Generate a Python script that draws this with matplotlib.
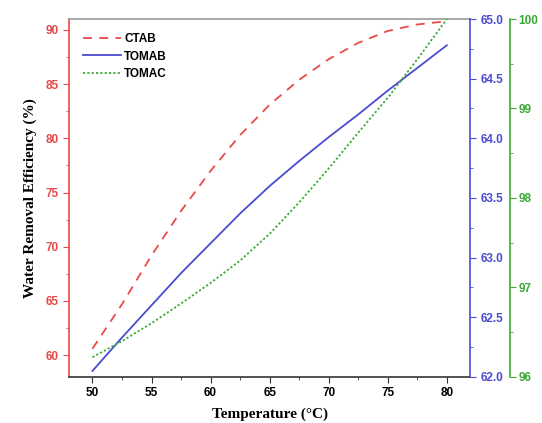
import matplotlib
matplotlib.use("Agg")
import matplotlib.pyplot as plt
from matplotlib.ticker import MultipleLocator

temperature = [50, 52.5, 55, 57.5, 60, 62.5, 65, 67.5, 70, 72.5, 75, 77.5, 80]
ctab = [60.6, 64.7, 69.2, 73.3, 77.0, 80.3, 83.1, 85.4, 87.3, 88.8, 89.9, 90.5, 90.8]
tomab = [62.05, 62.33, 62.6, 62.87, 63.12, 63.37, 63.6, 63.81, 64.01, 64.2, 64.4, 64.59, 64.78]
tomac = [96.22, 96.4, 96.6, 96.82, 97.05, 97.3, 97.6, 97.95, 98.33, 98.73, 99.12, 99.55, 100.0]

red = "#e8494a"
blue = "#4b4bd0"
green = "#3aaa35"

fig = plt.figure(figsize=(5.42, 4.23), dpi=100)
ax = fig.add_axes([0.127, 0.109, 0.741, 0.846])
ax2 = ax.twinx()
ax3 = ax.twinx()
ax3.spines["right"].set_position(("axes", 1.098))

l1, = ax.plot(temperature, ctab, color=red, ls=(0, (5, 4)), lw=1.3, label="CTAB")
l2, = ax2.plot(temperature, tomab, color=blue, ls="-", lw=1.3, label="TOMAB")
l3, = ax3.plot(temperature, tomac, color=green, ls=(0, (1.2, 1.2)), lw=1.3, label="TOMAC")

ax.set_xlim(48, 82)
ax.set_ylim(58, 91)
ax2.set_ylim(62, 65)
ax3.set_ylim(96, 100)

ax.xaxis.set_major_locator(MultipleLocator(5))
ax.xaxis.set_minor_locator(MultipleLocator(2.5))
ax.yaxis.set_major_locator(MultipleLocator(5))
ax.yaxis.set_minor_locator(MultipleLocator(2.5))
ax2.yaxis.set_major_locator(MultipleLocator(0.5))
ax2.yaxis.set_minor_locator(MultipleLocator(0.25))
ax3.yaxis.set_major_locator(MultipleLocator(1))
ax3.yaxis.set_minor_locator(MultipleLocator(0.5))
ax2.yaxis.set_major_formatter(matplotlib.ticker.FormatStrFormatter("%.1f"))

tick_font = dict(fontsize=8.5, fontweight="bold", family="Liberation Sans")
for lab in ax.get_xticklabels():
    lab.set(**tick_font)
for lab in ax.get_yticklabels():
    lab.set(**tick_font, color=red)
for lab in ax2.get_yticklabels():
    lab.set(**tick_font, color=blue)
for lab in ax3.get_yticklabels():
    lab.set(**tick_font, color=green)

ax.tick_params(axis="x", which="both", direction="out", colors="#333333", labelcolor="black")
ax.tick_params(axis="x", which="major", length=4)
ax.tick_params(axis="x", which="minor", length=2.5)
ax.tick_params(axis="y", which="both", direction="out", colors=red)
ax.tick_params(axis="y", which="major", length=4)
ax.tick_params(axis="y", which="minor", length=2.5)
ax2.tick_params(axis="y", which="both", direction="out", colors=blue)
ax2.tick_params(axis="y", which="major", length=4)
ax2.tick_params(axis="y", which="minor", length=2.5)
ax3.tick_params(axis="y", which="both", direction="out", colors=green, pad=2)
ax3.tick_params(axis="y", which="major", length=4)
ax3.tick_params(axis="y", which="minor", length=2.5)

for a in (ax, ax2, ax3):
    for s in a.spines.values():
        s.set_visible(False)
ax.spines["left"].set_visible(True)
ax.spines["left"].set_color(red)
ax.spines["bottom"].set_visible(True)
ax.spines["bottom"].set_color("#333333")
ax.spines["top"].set_visible(True)
ax.spines["top"].set_color("#999999")
ax2.spines["right"].set_visible(True)
ax2.spines["right"].set_color(blue)
ax3.spines["right"].set_visible(True)
ax3.spines["right"].set_color(green)
for a in (ax, ax2, ax3):
    for s in a.spines.values():
        s.set_linewidth(1.2)

ax.set_xlabel("Temperature (°C)", fontsize=11, fontweight="bold", family="Liberation Serif", labelpad=6)
ax.set_ylabel("Water Removal Efficiency (%)", fontsize=11, fontweight="bold", family="Liberation Serif", labelpad=6)

leg = ax.legend(handles=[l1, l2, l3], loc="upper left", frameon=False,
                prop=dict(size=8.5, weight="bold", family="Liberation Sans"),
                handlelength=3.2, handletextpad=0.3, labelspacing=0.45,
                borderaxespad=0.8)

fig.savefig("out.png", dpi=100)
